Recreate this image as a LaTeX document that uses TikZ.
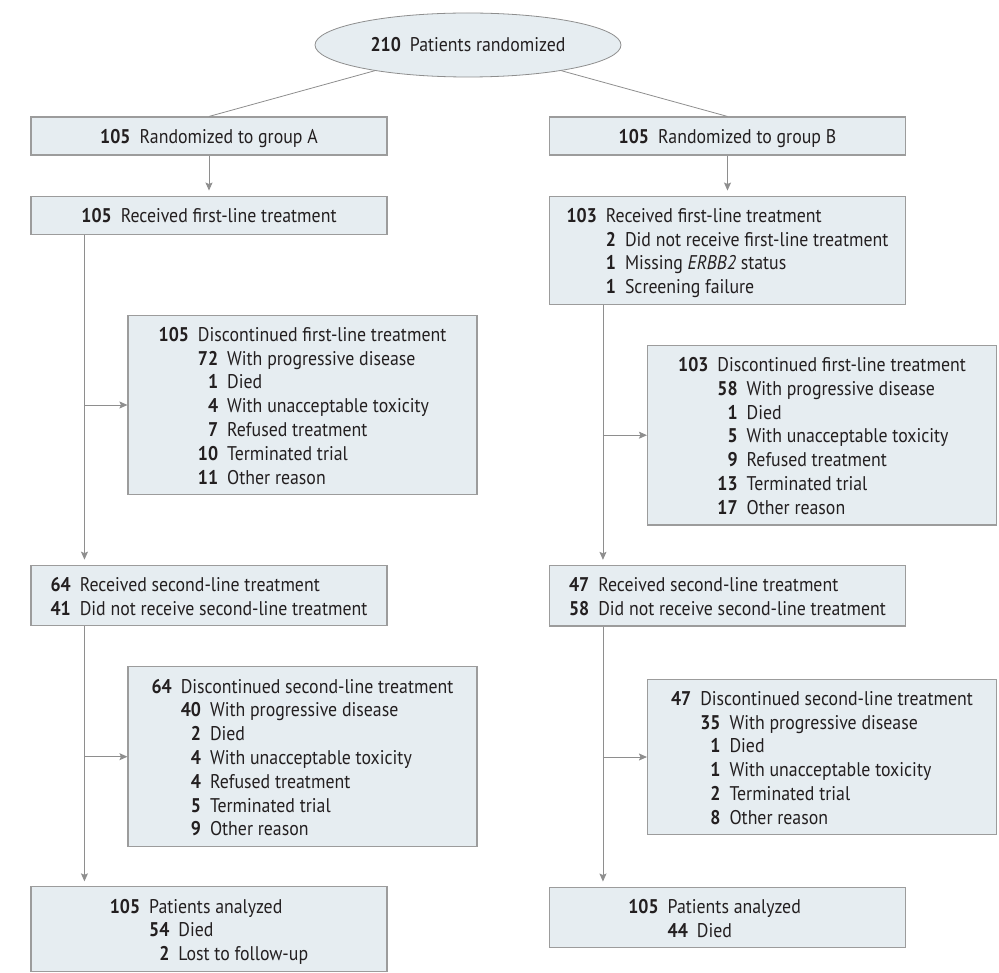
\documentclass[tikz,border=0pt]{standalone}
\usepackage{fontspec}
\setmainfont{PT Sans}[FakeStretch=0.9]
\usepackage{xcolor}
\usepackage{tikz}
\usetikzlibrary{arrows.meta,positioning,calc,shapes.geometric}
\definecolor{boxfill}{HTML}{E6EDF1}
\definecolor{boxline}{HTML}{9C9C9C}
\definecolor{linegray}{HTML}{8E8E8E}
\definecolor{inkdark}{HTML}{231F20}
\newcommand{\toplist}[1]{\raisebox{-3pt}[\height][\depth]{\begin{tabular}{@{}r@{\hspace{9pt}}l@{}}#1\end{tabular}}}
\newcommand{\sublist}[1]{\begin{tabular}[t]{@{}r@{\hspace{9pt}}l@{}}#1\end{tabular}}

\begin{document}
\begin{tikzpicture}[x=1pt,y=-1pt,
        font=\fontsize{19.8}{23.8}\selectfont,text=inkdark,
        mainbox/.style={draw=boxline,fill=boxfill,line width=1.1pt,
              minimum width=356pt,inner xsep=8pt,inner ysep=6.5pt},
        sidebox/.style={mainbox,minimum width=349pt},
        link/.style={draw=linegray,line width=0.8pt},
        flow/.style={link,line width=0.9pt,-{Stealth[length=8pt,width=7pt,inset=1.5pt]}},
        flowdown/.style={flow,shorten >=5pt}]
        \useasboundingbox (0,0) rectangle (999,973);
        \node[ellipse,draw=linegray,fill=boxfill,line width=0.8pt,
              minimum width=306pt,minimum height=64pt,inner sep=0pt] (ell) at (468,45)
              {\textbf{210}\hspace{9pt}Patients randomized};
        \node[mainbox,minimum height=38pt] (a1) at (209,136)
              {\toplist{\textbf{105} & Randomized to group A}};
        \node[mainbox,minimum height=38pt] (b1) at (727.5,136)
              {\toplist{\textbf{105} & Randomized to group B}};
        \node[mainbox,minimum height=38pt,below=40pt of a1] (a2)
              {\toplist{\textbf{105} & Received first-line treatment}};
        \node[mainbox,below=40pt of b1] (b2)
              {\toplist{\textbf{103} & Received first-line treatment\\
               & \sublist{\textbf{2} & Did not receive first-line treatment\\
                 \textbf{1} & Missing \textit{ERBB2} status\\
                 \textbf{1} & Screening failure}}};
        \node[sidebox,below right=80pt and 97pt of a2.south west] (a3)
              {\toplist{\textbf{105} & Discontinued first-line treatment\\
               & \sublist{\textbf{72} & With progressive disease\\
                 \textbf{1} & Died\\
                 \textbf{4} & With unacceptable toxicity\\
                 \textbf{7} & Refused treatment\\
                 \textbf{10} & Terminated trial\\
                 \textbf{11} & Other reason}}};
        \node[sidebox,below right=40pt and 98pt of b2.south west] (b3)
              {\toplist{\textbf{103} & Discontinued first-line treatment\\
               & \sublist{\textbf{58} & With progressive disease\\
                 \textbf{1} & Died\\
                 \textbf{5} & With unacceptable toxicity\\
                 \textbf{9} & Refused treatment\\
                 \textbf{13} & Terminated trial\\
                 \textbf{17} & Other reason}}};
        \node[mainbox,below=330pt of a2] (a4)
              {\toplist{\textbf{64} & Received second-line treatment\\
               \textbf{41} & Did not receive second-line treatment}};
        \node[mainbox,below=260pt of b2] (b4)
              {\toplist{\textbf{47} & Received second-line treatment\\
               \textbf{58} & Did not receive second-line treatment}};
        \node[sidebox,below right=40pt and 97pt of a4.south west] (a5)
              {\toplist{\textbf{64} & Discontinued second-line treatment\\
               & \sublist{\textbf{40} & With progressive disease\\
                 \textbf{2} & Died\\
                 \textbf{4} & With unacceptable toxicity\\
                 \textbf{4} & Refused treatment\\
                 \textbf{5} & Terminated trial\\
                 \textbf{9} & Other reason}}};
        \node[sidebox,below right=52pt and 98pt of b4.south west] (b5)
              {\toplist{\textbf{47} & Discontinued second-line treatment\\
               & \sublist{\textbf{35} & With progressive disease\\
                 \textbf{1} & Died\\
                 \textbf{1} & With unacceptable toxicity\\
                 \textbf{2} & Terminated trial\\
                 \textbf{8} & Other reason}}};
        \node[mainbox,below=260pt of a4] (a6)
              {\toplist{\textbf{105} & Patients analyzed\\
               & \sublist{\textbf{54} & Died\\
                 \textbf{2} & Lost to follow-up}}};
        \node[mainbox,below=260pt of b4] (b6)
              {\toplist{\textbf{105} & Patients analyzed\\
               & \sublist{\textbf{44} & \rlap{Died}\hphantom{Lost to follow-up}}}};
        \draw[link] (ell) -- (a1.north);
        \draw[link] (ell) -- (b1.north);
        \draw[flowdown] (a1) -- (a2);
        \draw[flowdown] (b1) -- (b2);
        \coordinate (la) at ($(a2.south west)+(54pt,0)$);
        \coordinate (lb) at ($(b2.south west)+(54pt,0)$);
        \coordinate (la2) at ($(a4.south west)+(54pt,0)$);
        \coordinate (lb2) at ($(b4.south west)+(54pt,0)$);
        \draw[flowdown] (la) -- (la |- a4.north);
        \draw[flow] (la |- a3.west) -- (a3.west);
        \draw[flowdown] (lb) -- (lb |- b4.north);
        \draw[flow] (lb |- b3.west) -- (b3.west);
        \draw[flowdown] (la2) -- (la2 |- a6.north);
        \draw[flow] (la2 |- a5.west) -- (a5.west);
        \draw[flowdown] (lb2) -- (lb2 |- b6.north);
        \draw[flow] (lb2 |- b5.west) -- (b5.west);
      \end{tikzpicture}
\end{document}
